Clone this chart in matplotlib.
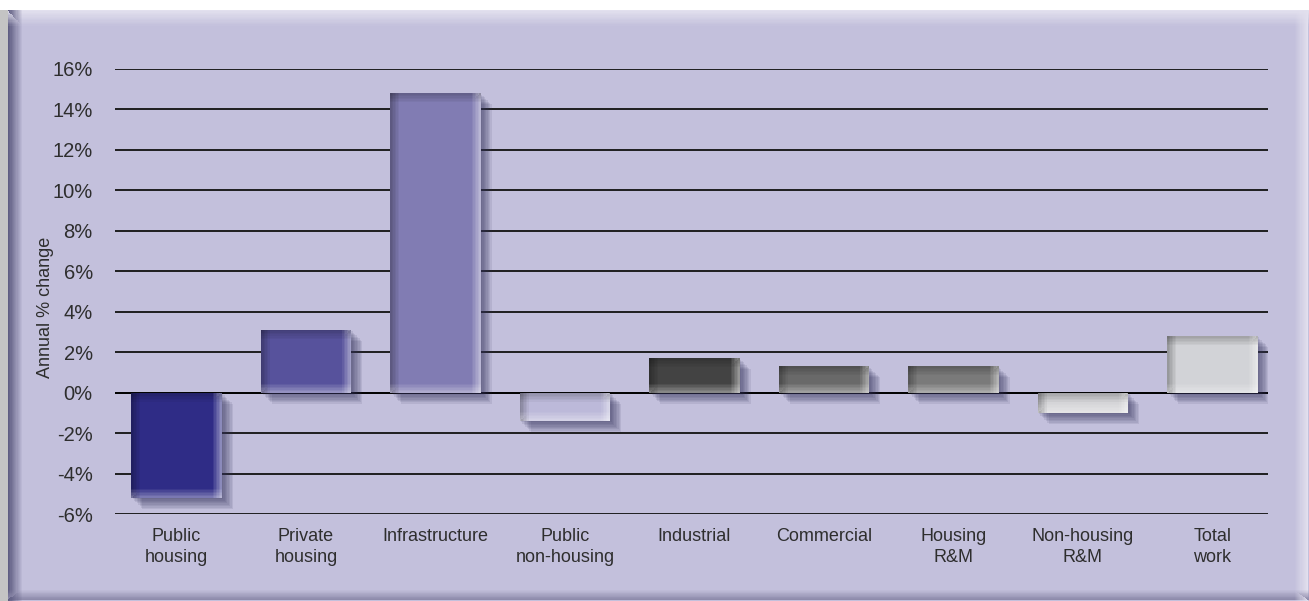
import matplotlib.pyplot as plt
import matplotlib.patheffects as pe
from matplotlib.patches import Rectangle
import numpy as np

plt.rcParams['font.family'] = ['Liberation Sans', 'DejaVu Sans']

# Data
categories = ['Public\nhousing', 'Private\nhousing', 'Infrastructure', 'Public\nnon-housing',
              'Industrial', 'Commercial', 'Housing\nR&M', 'Non-housing\nR&M', 'Total\nwork']
changes = [-5.2, 3.1, 14.8, -1.4, 1.7, 1.3, 1.3, -1.0, 2.8]
bar_colors = ['#2f2c86', '#57529c', '#817cb3', '#bcb9d9', '#434343',
              '#696969', '#7a7a7a', '#d5d5d8', '#d2d3d7']
yticks = [-6, -4, -2, 0, 2, 4, 6, 8, 10, 12, 14, 16]

W, H = 1309, 601
fig = plt.figure(figsize=(W / 100, H / 100), dpi=100)
fig.patch.set_facecolor('white')

# Background panel drawn in pixel coordinates
bg = fig.add_axes([0, 0, 1, 1], zorder=-10)
bg.set_xlim(0, W)
bg.set_ylim(H, 0)
bg.axis('off')
bg.add_patch(Rectangle((0, 10), 8, H - 10, color='#c4c4c4', lw=0))
bg.add_patch(Rectangle((8, 10), W - 8, H - 10, color='#c3c0dc', lw=0))
steps = 12
for k in range(steps):
    a = 1 - k / steps
    bg.add_patch(Rectangle((8, 10 + k * 1.3), W - 8, 1.3, color='#e2e0ee', alpha=a, lw=0))
    bg.add_patch(Rectangle((W - 2 - k * 1.1, 10), 1.1, H - 10, color='#e2e0ee', alpha=a, lw=0))
    bg.add_patch(Rectangle((8, H - 2 - k * 0.8), W - 8, 0.8, color='#8e8bab', alpha=a, lw=0))
    bg.add_patch(Rectangle((8 + k * 1.2, 10), 1.2, H - 10, color='#5f5d82', alpha=a, lw=0))

ax = fig.add_axes([115 / W, 87 / H, 1153 / W, 445 / H])
ax.patch.set_alpha(0)
x = np.arange(len(categories))
w = 0.7

# Soft drop shadow under each bar
shadow = [pe.withSimplePatchShadow(offset=(o, -o), shadow_rgbFace='#34325a', alpha=0.1)
          for o in (1, 2, 3, 4, 5, 6, 7, 8)] + [pe.Normal()]
ax.bar(x, changes, width=w, color=bar_colors, zorder=3, path_effects=shadow)

# Bevel edges: dark on left/top, light on right/bottom
n = 6
bx, by = 0.07, 0.45
for xi, v in zip(x, changes):
    lo, hi = min(0, v), max(0, v)
    left, right = xi - w / 2, xi + w / 2
    for k in range(n):
        a = 0.28 * (1 - k / n)
        ax.bar(left + k * bx / n, hi - lo, width=bx / n, bottom=lo, align='edge',
               color='black', alpha=a, lw=0, zorder=4)
        ax.bar(right - (k + 1) * bx / n, hi - lo, width=bx / n, bottom=lo, align='edge',
               color='white', alpha=a * 1.6, lw=0, zorder=4)
        ax.bar(left, by / n, width=w, bottom=hi - (k + 1) * by / n, align='edge',
               color='black', alpha=a * 0.8, lw=0, zorder=4)
        ax.bar(left, by / n, width=w, bottom=lo + k * by / n, align='edge',
               color='white', alpha=a * 1.3, lw=0, zorder=4)

ax.set_xlim(-0.475, 8.43)
ax.set_ylim(-6, 16)
ax.set_yticks(yticks)
ax.set_yticklabels([f'{t}%' for t in yticks], fontsize=14.5, color='#2e2e2e')
ax.set_xticks(x)
ax.set_xticklabels(categories, fontsize=13, color='#2e2e2e', linespacing=1.32)
ax.tick_params(axis='both', length=0)
ax.tick_params(axis='y', pad=16)
ax.tick_params(axis='x', pad=10)
ax.grid(axis='y', color='#111111', lw=1.3, zorder=1)
ax.set_axisbelow(True)
for s in ax.spines.values():
    s.set_visible(False)
ax.axhline(0, color='black', lw=1.3, zorder=2)

fig.text(45 / W, 1 - 307 / H, 'Annual % change', rotation=90, ha='center', va='center',
         fontsize=13, color='#2e2e2e')

fig.savefig('out.png', dpi=100)
